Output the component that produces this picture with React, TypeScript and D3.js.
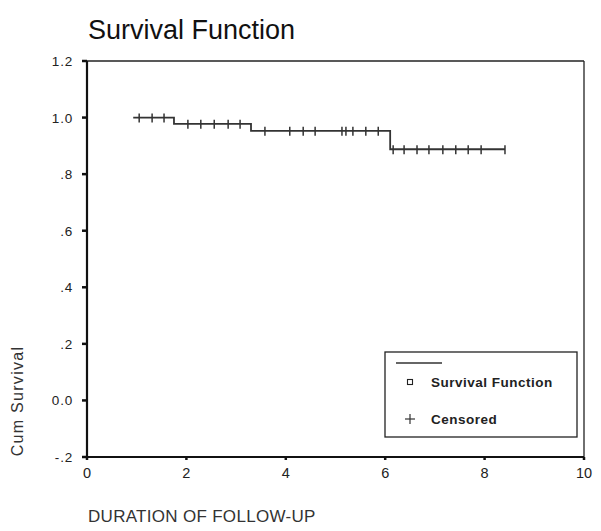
import React from "react";
import * as d3 from "d3";

// Kaplan-Meier step data
const stepTimes = [0.93, 1.75, 3.3, 6.1];
const stepSurvival = [1.0, 0.978, 0.953, 0.888];
const endTime = 8.41;
const censoredTimes = [
  1.05, 1.31, 1.55,
  2.03, 2.29, 2.56, 2.84, 3.08,
  3.58, 4.08, 4.35, 4.59, 5.13, 5.21, 5.35, 5.61, 5.86,
  6.16, 6.38, 6.64, 6.88, 7.16, 7.42, 7.67, 7.93, 8.41,
];
const yTicks = [-0.2, 0, 0.2, 0.4, 0.6, 0.8, 1.0, 1.2];
const yTickLabels = ["-.2", "0.0", ".2", ".4", ".6", ".8", "1.0", "1.2"];
const xTicks = [0, 2, 4, 6, 8, 10];

const FONT = "Arial, 'Liberation Sans', Helvetica, sans-serif";

export default function App() {
  const W = 601;
  const H = 531;
  const x = d3.scaleLinear().domain([0, 10]).range([87, 584]);
  const y = d3.scaleLinear().domain([-0.2, 1.2]).range([457, 61]);

  const survAt = (t: number) => {
    let s = stepSurvival[0];
    for (let i = 0; i < stepTimes.length; i++) if (t >= stepTimes[i]) s = stepSurvival[i];
    return s;
  };

  const pts: [number, number][] = [];
  stepTimes.forEach((t, i) => pts.push([t, stepSurvival[i]]));
  pts.push([endTime, stepSurvival[stepSurvival.length - 1]]);
  const line = d3
    .line<[number, number]>()
    .x((d) => x(d[0]))
    .y((d) => y(d[1]))
    .curve(d3.curveStepAfter);

  const x0 = x(0), x1 = x(10), yb = y(-0.2), yt = y(1.2);

  return (
    <svg width={W} height={H} style={{ position: "absolute", left: 0, top: 0, background: "#fff" }}>
      <rect width={W} height={H} fill="#fff" />
      <text x={88} y={39} fontFamily={FONT} fontSize={27} fill="#111">Survival Function</text>

      {/* frame */}
      <line x1={x0} x2={x1} y1={yt} y2={yt} stroke="#222" strokeWidth={1.3} />
      <line x1={x1} x2={x1} y1={yt} y2={yb} stroke="#222" strokeWidth={1.3} />
      <line x1={x0} x2={x0} y1={yt} y2={yb} stroke="#111" strokeWidth={2.2} />
      <line x1={x0} x2={x1} y1={yb} y2={yb} stroke="#111" strokeWidth={2.2} />

      {/* y ticks */}
      {yTicks.map((v, i) => (
        <g key={"y" + i}>
          <line x1={x0 - 5} x2={x0} y1={y(v)} y2={y(v)} stroke="#111" strokeWidth={2.5} />
          <text x={73} y={y(v) + 5} textAnchor="end" fontFamily={FONT} fontSize={13.5} letterSpacing={0.8} fill="#222">
            {yTickLabels[i]}
          </text>
        </g>
      ))}
      {/* x ticks */}
      {xTicks.map((v) => (
        <g key={"x" + v}>
          <line x1={x(v)} x2={x(v)} y1={yb} y2={yb + 3} stroke="#111" strokeWidth={2.5} />
          <text x={x(v)} y={yb + 21} textAnchor="middle" fontFamily={FONT} fontSize={14.5} fill="#222">
            {v}
          </text>
        </g>
      ))}

      {/* axis titles */}
      <text
        transform={`translate(23,${401}) rotate(-90)`}
        textAnchor="middle"
        fontFamily={FONT}
        fontSize={16}
        letterSpacing={1.3}
        fill="#333"
      >
        Cum Survival
      </text>
      <text x={88} y={522} fontFamily={FONT} fontSize={17} letterSpacing={0.3} fill="#333">
        DURATION OF FOLLOW-UP
      </text>

      {/* survival curve */}
      <path d={line(pts) || ""} fill="none" stroke="#333" strokeWidth={1.8} />
      {censoredTimes.map((t, i) => (
        <line key={"c" + i} x1={x(t)} x2={x(t)} y1={y(survAt(t)) - 4} y2={y(survAt(t)) + 5} stroke="#333" strokeWidth={1.5} />
      ))}

      {/* legend */}
      <rect x={385} y={352} width={192} height={85} fill="#fff" stroke="#222" strokeWidth={1.3} />
      <line x1={396} x2={442} y1={363} y2={363} stroke="#333" strokeWidth={1.4} />
      <rect x={407.5} y={379.5} width={5} height={5} fill="none" stroke="#222" strokeWidth={1.1} />
      <text x={431} y={387} fontFamily={FONT} fontSize={13.5} fontWeight="bold" letterSpacing={0.5} fill="#222">
        Survival Function
      </text>
      <line x1={405} x2={415} y1={419} y2={419} stroke="#333" strokeWidth={1.2} />
      <line x1={410} x2={410} y1={414} y2={424} stroke="#333" strokeWidth={1.2} />
      <text x={431} y={424} fontFamily={FONT} fontSize={13.5} fontWeight="bold" letterSpacing={0.5} fill="#222">
        Censored
      </text>
    </svg>
  );
}
